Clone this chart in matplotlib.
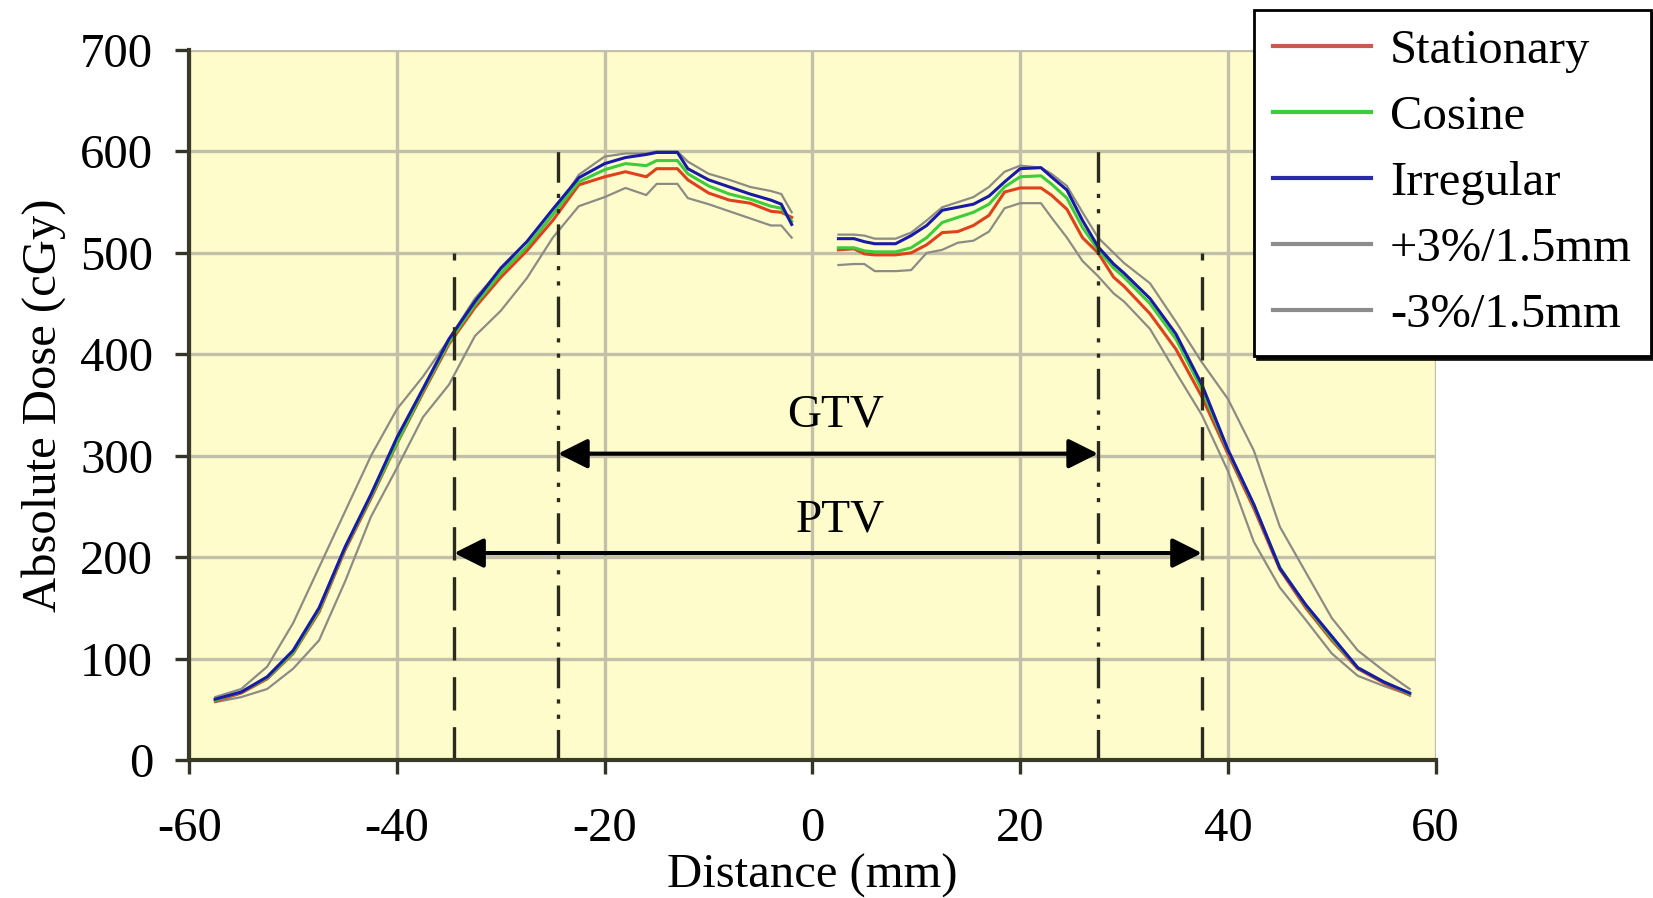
import numpy as np
import matplotlib.pyplot as plt

plt.rcParams['font.family'] = ['Liberation Serif', 'DejaVu Serif']
plt.rcParams['lines.scale_dashes'] = False
plt.rcParams['axes.unicode_minus'] = False

# left half of the profile
x_left = [-57.5, -55, -52.5, -50, -47.5, -45, -42.5, -40, -37.5, -35, -32.5, -30, -27.5,
          -25, -22.5, -20, -18, -16, -15, -13, -12, -10, -8, -6, -4, -3, -2]
stat_left = [58, 66, 80, 105, 146, 207, 258, 312, 362, 410, 446, 476, 502,
             532, 567, 575, 580, 575, 583, 583, 572, 559, 552, 549, 541, 540, 535]
cos_left = [59, 67, 81, 106, 148, 209, 260, 313, 364, 412, 449, 480, 506,
            538, 570, 582, 588, 586, 591, 591, 578, 566, 558, 553, 546, 544, 531]
irr_left = [60, 67, 82, 108, 150, 210, 262, 318, 366, 415, 452, 485, 511,
            543, 574, 588, 594, 597, 599, 599, 583, 572, 565, 558, 552, 548, 528]
plus_left = [62, 70, 92, 135, 190, 245, 300, 346, 378, 415, 455, 484, 505,
             537, 577, 595, 598, 598, 600, 600, 590, 578, 572, 565, 561, 558, 540]
minus_left = [57, 62, 70, 90, 118, 176, 240, 288, 338, 370, 418, 443, 475,
              515, 546, 555, 564, 557, 568, 568, 554, 548, 541, 534, 527, 527, 515]

# right half of the profile
x_right = [2.5, 4, 5, 6, 8, 9.5, 11, 12.5, 14, 15.5, 17, 18.5, 20, 22, 23, 24.5, 26,
           27.5, 29, 30, 32.5, 35, 37.5, 40, 42.5, 45, 47.5, 50, 52.5, 55, 57.5]
stat_right = [503, 504, 499, 498, 498, 500, 508, 520, 521, 527, 537, 560, 564, 564, 557, 543, 515,
              500, 476, 467, 440, 405, 358, 302, 248, 188, 150, 118, 90, 76, 64]
cos_right = [505, 505, 502, 501, 501, 505, 515, 530, 535, 540, 548, 565, 575, 576, 568, 554, 525,
             503, 485, 476, 450, 415, 365, 305, 251, 190, 152, 120, 91, 77, 65]
irr_right = [514, 514, 511, 509, 509, 517, 527, 542, 545, 548, 556, 570, 583, 584, 575, 562, 532,
             506, 489, 480, 455, 420, 370, 306, 252, 189, 153, 122, 91, 77, 66]
plus_right = [518, 518, 517, 514, 514, 520, 532, 545, 550, 555, 565, 580, 586, 584, 578, 566, 540,
              515, 500, 490, 470, 432, 392, 356, 305, 230, 185, 140, 108, 88, 70]
minus_right = [488, 489, 489, 482, 482, 483, 500, 503, 510, 512, 521, 544, 549, 549, 535, 515, 492,
               477, 460, 452, 425, 382, 340, 285, 215, 170, 138, 105, 83, 73, 64]

# target volume edges (mm) and their heights
gtv = [-24.5, 27.5]
ptv = [-34.5, 37.5]
gtv_top = 600
ptv_top = 500

fig = plt.figure(figsize=(16.53, 8.98), dpi=100)
ax = fig.add_axes([0.1145, 0.1537, 0.754, 0.7906])
ax.set_facecolor('#fffccc')

grey = '#8c8c84'
for xs, ys in [(x_left, plus_left), (x_right, plus_right),
               (x_left, minus_left), (x_right, minus_right)]:
    ax.plot(xs, ys, color=grey, lw=1.6)
ax.plot(x_left, stat_left, color='#e0401a', lw=2.2)
ax.plot(x_right, stat_right, color='#e0401a', lw=2.2)
ax.plot(x_left, cos_left, color='#3ccc3c', lw=2.2)
ax.plot(x_right, cos_right, color='#3ccc3c', lw=2.2)
ax.plot(x_left, irr_left, color='#1a1aa8', lw=2.2)
ax.plot(x_right, irr_right, color='#1a1aa8', lw=2.2)

# GTV / PTV markers
for g in gtv:
    ax.plot([g, g], [0, gtv_top], color='#2a2a1e', lw=2.4,
            ls=(0, (22, 8, 3, 8, 3, 8)))
for p in ptv:
    ax.plot([p, p], [0, ptv_top], color='#2a2a1e', lw=2.4, ls=(0, (24, 12)))

ax.annotate('', xy=(gtv[0], 302), xytext=(gtv[1], 302),
            arrowprops=dict(arrowstyle='<|-|>', color='black', lw=3, mutation_scale=45, shrinkA=0, shrinkB=0))
ax.annotate('', xy=(ptv[0], 204), xytext=(ptv[1], 204),
            arrowprops=dict(arrowstyle='<|-|>', color='black', lw=3, mutation_scale=45, shrinkA=0, shrinkB=0))
ax.text(2.2, 340, 'GTV', fontsize=34, ha='center', va='center')
ax.text(2.7, 236, 'PTV', fontsize=34, ha='center', va='center')

ax.set_xlim(-60, 60)
ax.set_ylim(0, 700)
ax.set_xticks(np.arange(-60, 61, 20))
ax.set_yticks(np.arange(0, 701, 100))
ax.grid(True, color='#c2c0a8', lw=2.4)
ax.set_axisbelow(True)
ax.tick_params(labelsize=35, length=10, width=2.4, color='#333326')
ax.tick_params(axis='x', pad=24)
ax.tick_params(axis='y', pad=16)
for s in ['top', 'right']:
    ax.spines[s].set_visible(False)
for s in ['left', 'bottom']:
    ax.spines[s].set_linewidth(3)
    ax.spines[s].set_color('#3a3a2a')
ax.set_xlabel('Distance (mm)', fontsize=35, labelpad=2)
ax.set_ylabel('Absolute Dose (cGy)', fontsize=35, labelpad=10)

# legend box sits over the top right corner
h = [plt.Line2D([], [], color='#c85a50', lw=3),
     plt.Line2D([], [], color='#3ccc3c', lw=3),
     plt.Line2D([], [], color='#2a2aa8', lw=3),
     plt.Line2D([], [], color='#8c8c8c', lw=3),
     plt.Line2D([], [], color='#8c8c8c', lw=3)]
names = ['Stationary', 'Cosine', 'Irregular', '+3%/1.5mm', '-3%/1.5mm']
leg = fig.legend(h, names, loc='upper left', bbox_to_anchor=(0.7586, 0.989), fontsize=35,
                 frameon=True, fancybox=False, edgecolor='black', framealpha=1,
                 shadow={'color': 'black', 'alpha': 0.9}, handlelength=2.0, handletextpad=0.4,
                 labelspacing=0.45, borderpad=0.4, borderaxespad=0)
leg.get_frame().set_linewidth(2)

fig.savefig('out.png', dpi=100, facecolor='white')
